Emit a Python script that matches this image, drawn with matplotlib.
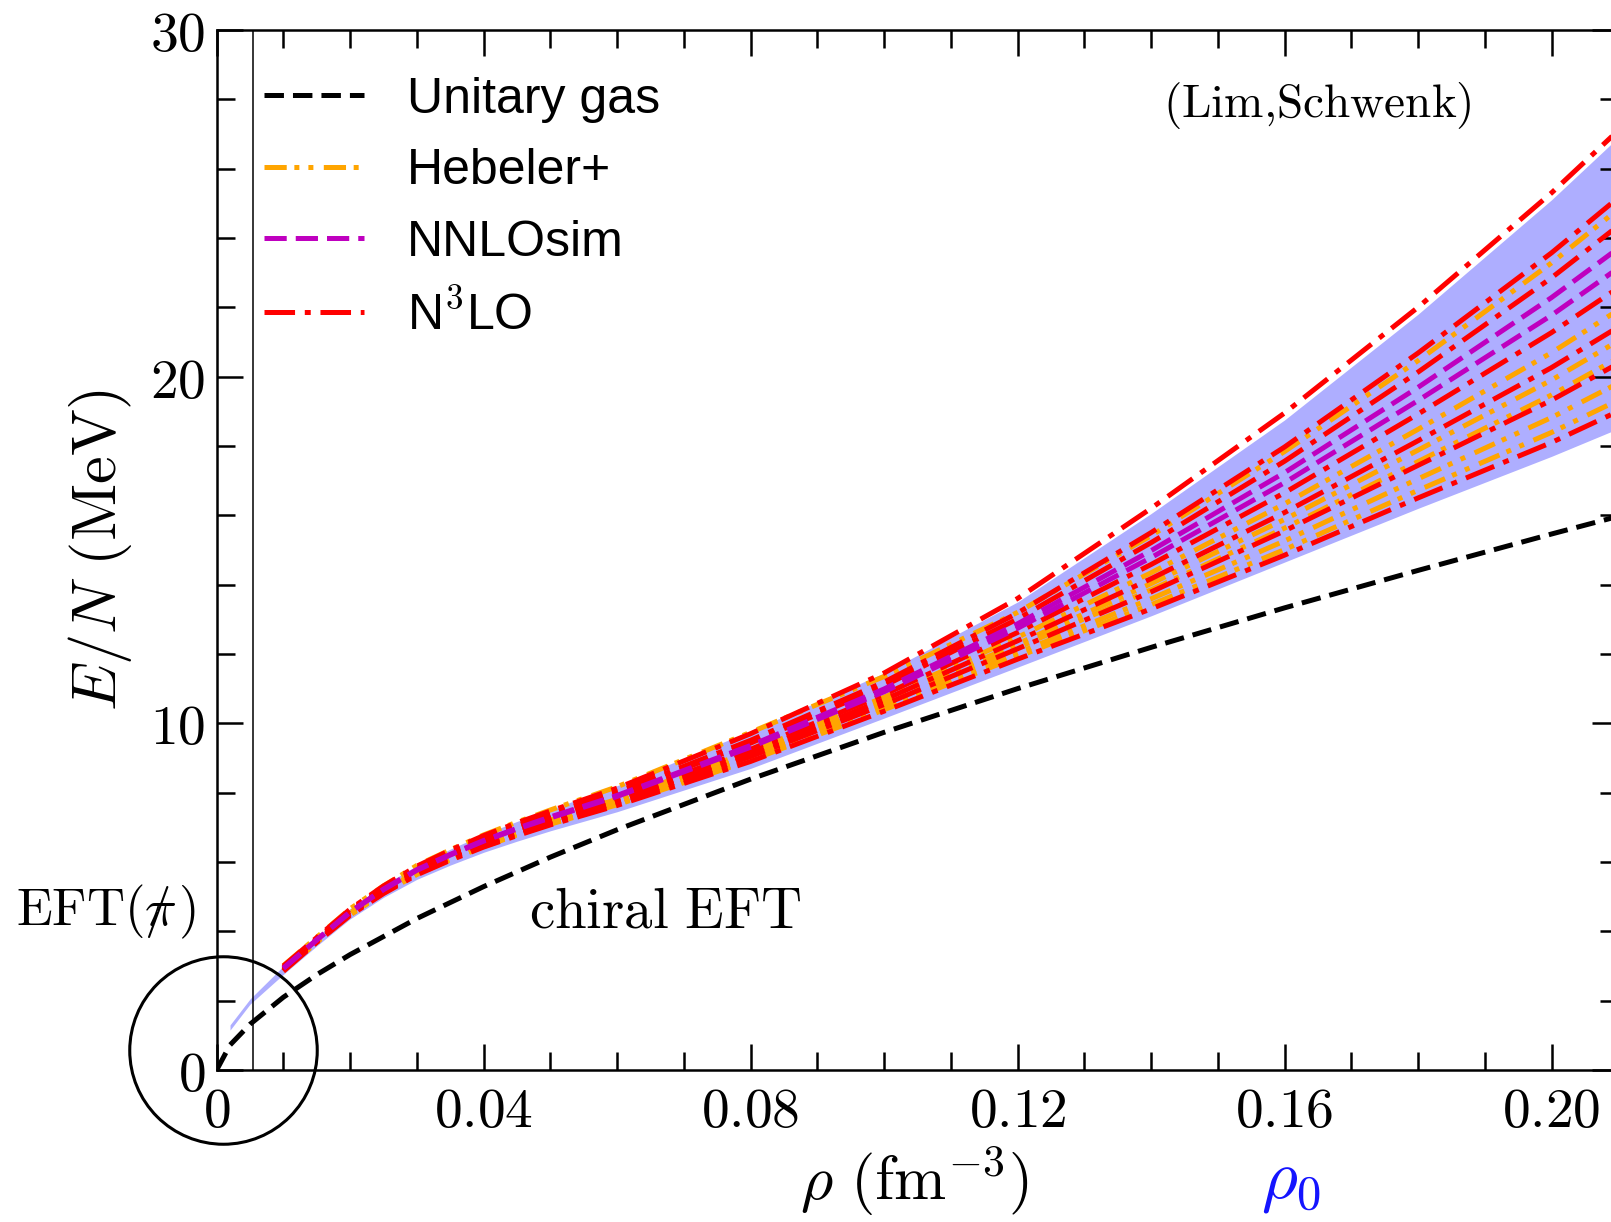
import matplotlib
matplotlib.use("Agg")
import matplotlib.pyplot as plt
from matplotlib.ticker import FixedLocator, FixedFormatter, MultipleLocator

plt.rcParams["mathtext.fontset"] = "cm"
plt.rcParams["lines.scale_dashes"] = False
plt.rcParams["lines.dash_capstyle"] = "butt"

# ---------------------------------------------------------------- data
# unitary Fermi gas
rho_unitary = [0, 0.002, 0.005, 0.01, 0.015, 0.02, 0.03, 0.04, 0.05, 0.06,
               0.08, 0.10, 0.12, 0.14, 0.16, 0.18, 0.20, 0.21]
e_unitary = [0, 0.72, 1.32, 2.10, 2.75, 3.33, 4.37, 5.29, 6.14, 6.93,
             8.39, 9.74, 11.00, 12.19, 13.33, 14.41, 15.46, 15.97]

# chiral EFT uncertainty band
rho_band = [0.002, 0.005, 0.01, 0.015, 0.02, 0.025, 0.03, 0.035, 0.04, 0.045,
            0.05, 0.06, 0.08, 0.10, 0.12, 0.14, 0.16, 0.18, 0.20, 0.21]
band_lower = [1.15, 1.90, 2.76, 3.58, 4.36, 4.98, 5.50, 5.91, 6.28, 6.60,
              6.90, 7.45, 8.70, 10.15, 11.62, 13.10, 14.65, 16.20, 17.70, 18.50]
band_upper = [1.30, 2.05, 3.00, 3.84, 4.66, 5.33, 5.90, 6.37, 6.80, 7.17,
              7.52, 8.20, 9.78, 11.45, 13.50, 16.05, 18.75, 21.80, 25.10, 26.90]

# individual calculations
rho_chiral = [0.01, 0.015, 0.02, 0.025, 0.03, 0.035, 0.04, 0.045, 0.05, 0.06,
              0.08, 0.10, 0.12, 0.14, 0.16, 0.18, 0.20, 0.21]

hebeler_curves = [
    [3.01, 3.83, 4.65, 5.31, 5.90, 6.35, 6.78, 7.15, 7.50, 8.17, 9.74, 11.35, 13.20, 15.41, 17.84, 20.46, 23.28, 24.83],
    [2.90, 3.73, 4.53, 5.17, 5.72, 6.16, 6.55, 6.89, 7.21, 7.81, 9.19, 10.75, 12.48, 14.34, 16.33, 18.48, 20.69, 21.92],
    [2.89, 3.72, 4.51, 5.15, 5.69, 6.12, 6.51, 6.85, 7.17, 7.76, 9.10, 10.63, 12.29, 14.03, 15.88, 17.88, 19.90, 21.03],
    [2.88, 3.71, 4.49, 5.13, 5.68, 6.10, 6.49, 6.83, 7.15, 7.73, 9.05, 10.56, 12.18, 13.85, 15.63, 17.55, 19.47, 20.54],
    [2.87, 3.69, 4.48, 5.12, 5.66, 6.08, 6.46, 6.80, 7.11, 7.68, 8.98, 10.46, 12.03, 13.59, 15.26, 17.05, 18.82, 19.81],
    [2.86, 3.69, 4.47, 5.10, 5.64, 6.06, 6.44, 6.78, 7.09, 7.65, 8.93, 10.39, 11.92, 13.42, 15.01, 16.72, 18.39, 19.32],
]

nnlosim_curves = [
    [2.94, 3.76, 4.56, 5.22, 5.78, 6.22, 6.62, 6.97, 7.30, 7.92, 9.36, 10.99, 12.87, 14.98, 17.23, 19.69, 22.28, 23.70],
    [2.93, 3.75, 4.55, 5.20, 5.76, 6.20, 6.60, 6.95, 7.27, 7.89, 9.31, 10.91, 12.74, 14.78, 16.94, 19.31, 21.77, 23.13],
]

n3lo_curves = [
    [3.00, 3.82, 4.64, 5.31, 5.88, 6.34, 6.76, 7.13, 7.47, 8.13, 9.70, 11.45, 13.60, 16.20, 18.95, 22.00, 25.30, 27.10],
    [2.96, 3.79, 4.60, 5.26, 5.82, 6.27, 6.68, 7.04, 7.37, 8.01, 9.51, 11.19, 13.18, 15.50, 17.97, 20.68, 23.57, 25.16],
    [2.95, 3.77, 4.58, 5.24, 5.80, 6.25, 6.65, 7.00, 7.33, 7.96, 9.43, 11.08, 13.01, 15.21, 17.56, 20.13, 22.85, 24.35],
    [2.92, 3.74, 4.54, 5.19, 5.74, 6.18, 6.58, 6.93, 7.25, 7.85, 9.25, 10.83, 12.62, 14.58, 16.65, 18.92, 21.27, 22.56],
    [2.90, 3.72, 4.51, 5.16, 5.71, 6.14, 6.53, 6.87, 7.19, 7.78, 9.14, 10.68, 12.38, 14.17, 16.08, 18.15, 20.26, 21.43],
    [2.88, 3.70, 4.49, 5.13, 5.67, 6.10, 6.49, 6.83, 7.14, 7.72, 9.04, 10.54, 12.15, 13.79, 15.55, 17.44, 19.32, 20.38],
    [2.85, 3.68, 4.46, 5.09, 5.63, 6.05, 6.43, 6.76, 7.07, 7.63, 8.90, 10.35, 11.85, 13.30, 14.85, 16.50, 18.10, 19.00],
]

series_labels = ["Unitary gas", "Hebeler+", "NNLOsim", r"N$^{3}$LO"]

# boundary of the pionless regime
pionless_limit = 0.0055
# ring marking the pionless region near the origin
ring_center = (0.00094, 0.58)

x_ticks = [0, 0.04, 0.08, 0.12, 0.16, 0.20]
x_ticklabels = [r"$0$", r"$0.04$", r"$0.08$", r"$0.12$", r"$0.16$", r"$0.20$"]
y_ticks = [0, 10, 20, 30]
y_ticklabels = [r"$0$", r"$10$", r"$20$", r"$30$"]

# ---------------------------------------------------------------- styles
LW = 3.6
style_unitary = dict(color="black", lw=LW, ls=(0, (14, 6.5)))
style_hebeler = dict(color="#FFA500", lw=LW, ls=(0, (16, 5.5, 3.6, 6.5, 3.6, 7.5)))
style_nnlosim = dict(color="#BF00BF", lw=LW, ls=(0, (16, 6.5)))
style_n3lo = dict(color="#FF0000", lw=LW, ls=(0, (22, 7, 4.3, 7)))

# ---------------------------------------------------------------- figure
fig = plt.figure(figsize=(16.11, 12.22), dpi=100)
ax = fig.add_axes([0.1345, 0.1244, 0.8700, 0.8511])

ax.fill_between(rho_band, band_lower, band_upper, color="#AEAEFF", lw=0, zorder=1)

h_unit, = ax.plot(rho_unitary, e_unitary, zorder=3, **style_unitary)
h_heb = None
for vals in hebeler_curves:
    h_heb, = ax.plot(rho_chiral, vals, zorder=2, **style_hebeler)
h_nnlo = None
for vals in nnlosim_curves:
    h_nnlo, = ax.plot(rho_chiral, vals, zorder=2.2, **style_nnlosim)
h_n3lo = None
for vals in n3lo_curves:
    h_n3lo, = ax.plot(rho_chiral, vals, zorder=2.1, **style_n3lo)

ax.axvline(pionless_limit, color="black", lw=1.1, zorder=4)
ax.plot([ring_center[0]], [ring_center[1]], marker="o", ms=135, mfc="none",
        mec="black", mew=2.2, ls="none", clip_on=False, zorder=5)

ax.set_xlim(0, 0.21)
ax.set_ylim(0, 30)

ax.xaxis.set_major_locator(FixedLocator(x_ticks))
ax.xaxis.set_major_formatter(FixedFormatter(x_ticklabels))
ax.xaxis.set_minor_locator(MultipleLocator(0.01))
ax.yaxis.set_major_locator(FixedLocator(y_ticks))
ax.yaxis.set_major_formatter(FixedFormatter(y_ticklabels))
ax.yaxis.set_minor_locator(MultipleLocator(2))

ax.tick_params(which="both", direction="in", top=True, right=True, width=1.8,
               colors="black", labelsize=40)
ax.tick_params(which="major", length=19)
ax.tick_params(which="minor", length=13)
ax.tick_params(axis="x", pad=11)
ax.tick_params(axis="y", pad=8)
for sp in ax.spines.values():
    sp.set_linewidth(1.8)

ax.text(0.4975, -0.107, r"$\rho\ (\mathrm{fm}^{-3})$", transform=ax.transAxes,
        ha="center", va="center", fontsize=45)
ax.text(0.7665, -0.107, r"$\rho_0$", transform=ax.transAxes, ha="center",
        va="center", fontsize=50, color="#1414FF")
ax.text(-0.083, 0.5, r"$E/N\ (\mathrm{MeV})$", transform=ax.transAxes,
        ha="center", va="center", rotation=90, fontsize=45)
ax.text(0.320, 0.152, r"$\mathrm{chiral\ EFT}$", transform=ax.transAxes,
        ha="center", va="center", fontsize=41)
ax.text(-0.0792, 0.152, r"$\mathrm{EFT}(\pi\!\!\!\!/\,)$", transform=ax.transAxes,
        ha="center", va="center", fontsize=38)
ax.text(0.785, 0.927, r"$\mathrm{(Lim{,}Schwenk)}$", transform=ax.transAxes,
        ha="center", va="center", fontsize=34)

leg = ax.legend([h_unit, h_heb, h_nnlo, h_n3lo], series_labels,
                loc="upper left", bbox_to_anchor=(0.0337, 0.955),
                frameon=False, borderpad=0, borderaxespad=0,
                handlelength=2.0, handletextpad=0.86, labelspacing=0.51,
                prop={"family": "Liberation Sans", "size": 36})

fig.savefig("out.png", dpi=100)
